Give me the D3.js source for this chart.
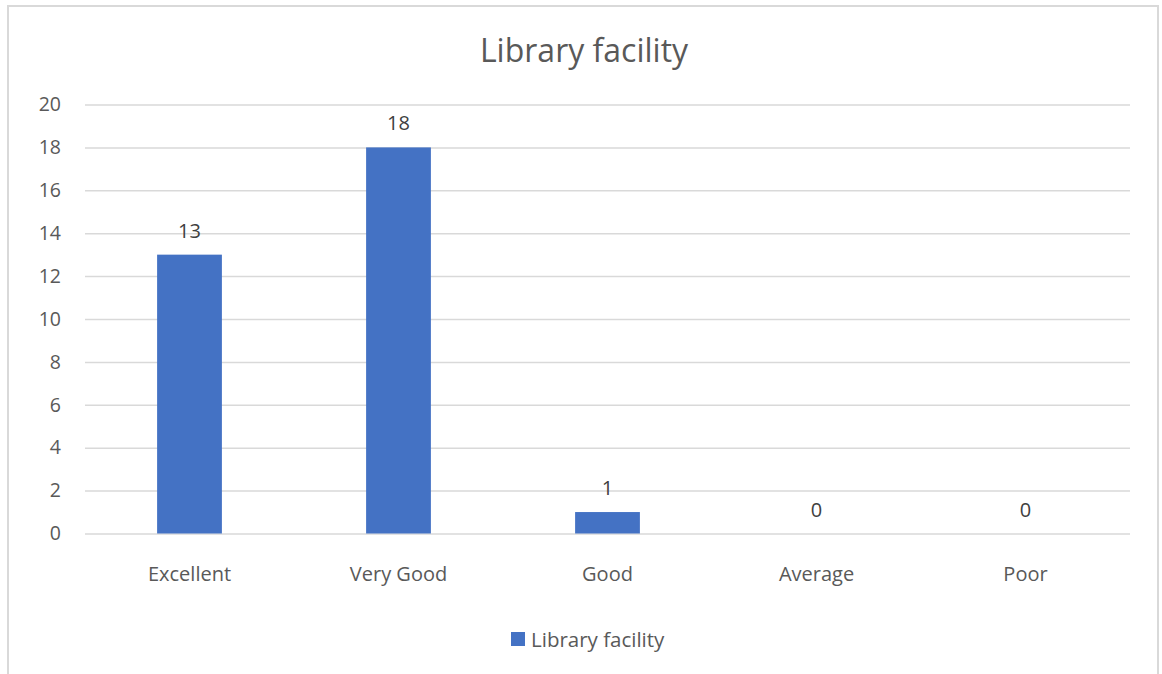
<!DOCTYPE html>
<html><head><meta charset="utf-8">
<script src="https://cdn.jsdelivr.net/npm/d3@7"></script>
<style>body{margin:0;background:#fff;}svg{display:block;}</style>
</head><body>
<svg id="c" width="1162" height="674"></svg>
<script>
const categories = ["Excellent","Very Good","Good","Average","Poor"];
const values = [13,18,1,0,0];
const yTicks = [0,2,4,6,8,10,12,14,16,18,20];
const seriesName = "Library facility";
const title = "Library facility";

const svg = d3.select("#c");
const font = "'Open Sans', sans-serif";
const textColor = "#595959";
const barColor = "#4472c4";

svg.append("rect").attr("x",8).attr("y",6).attr("width",1150).attr("height",700)
  .attr("fill","#fff").attr("stroke","#d9d9d9").attr("stroke-width",2);

const pLeft=85, pRight=1130, pTop=104.5, pBottom=533.5;
const x = d3.scaleBand().domain(categories).range([pLeft,pRight]).paddingInner(0.69).paddingOuter(0.345);
const y = d3.scaleLinear().domain([0,20]).range([pBottom,pTop]);

svg.append("text").attr("x",584).attr("y",62).attr("text-anchor","middle")
  .attr("font-family",font).attr("font-size",32).attr("fill",textColor).text(title);

const yAxis = d3.axisLeft(y).tickValues(yTicks).tickSize(-(pRight-pLeft)).tickPadding(24);
const gy = svg.append("g").attr("transform",`translate(${pLeft},0)`).call(yAxis);
gy.select(".domain").remove();
gy.selectAll(".tick line").attr("stroke","#d9d9d9").attr("stroke-width",1.5);
gy.selectAll(".tick text").attr("font-family",font).attr("font-size",19.5).attr("fill",textColor);

const xAxis = d3.axisBottom(x).tickSize(0).tickPadding(33);
const gx = svg.append("g").attr("transform",`translate(0,${pBottom})`).call(xAxis);
gx.select(".domain").remove();
gx.selectAll(".tick text").attr("font-family",font).attr("font-size",20).attr("fill",textColor);

const data = categories.map((c,i)=>({c,v:values[i]}));
svg.selectAll("rect.bar").data(data).enter().append("rect").attr("class","bar")
  .attr("x",d=>x(d.c)).attr("width",x.bandwidth())
  .attr("y",d=>y(d.v)).attr("height",d=>pBottom-y(d.v)).attr("fill",barColor);

svg.selectAll("text.lbl").data(data).enter().append("text").attr("class","lbl")
  .attr("x",d=>x(d.c)+x.bandwidth()/2).attr("y",d=>y(d.v)-17)
  .attr("text-anchor","middle").attr("font-family",font).attr("font-size",20).attr("fill","#404040")
  .text(d=>d.v);

const lg = svg.append("g");
lg.append("rect").attr("x",511).attr("y",632).attr("width",14).attr("height",14).attr("fill",barColor);
lg.append("text").attr("x",531).attr("y",647).attr("font-family",font).attr("font-size",20.5).attr("fill",textColor).text(seriesName);
</script>
</body></html>
